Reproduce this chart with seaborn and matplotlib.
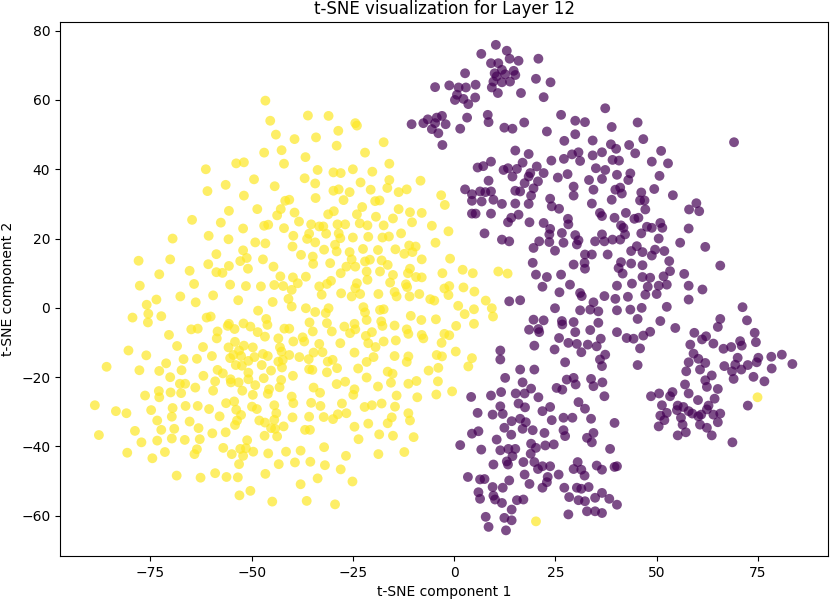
import numpy as np
import pandas as pd
import matplotlib
matplotlib.use("Agg")
import matplotlib.pyplot as plt
import seaborn as sns

# t-SNE coordinates, one list per class
class_names = ["class 0", "class 1"]
class_colors = ["#440154", "#fde725"]

yellow_points = [
    # upper left part
    (-46.6, 59.8), (-45.4, 54.0), (-44.0, 50.0), (-39.4, 48.7), (-46.9, 44.8), (-42.6, 45.5),
    (-42.0, 41.6), (-53.8, 41.7), (-51.9, 42.0), (-61.3, 40.0), (-49.4, 37.1), (-56.4, 35.5),
    (-60.9, 33.7), (-44.3, 35.1), (-51.9, 32.4), (-41.7, 30.9), (-40.7, 31.2), (-55.6, 28.0),
    (-48.6, 28.5), (-42.8, 28.5), (-43.7, 26.7), (-39.4, 27.5), (-64.7, 25.4), (-57.6, 24.6),
    (-52.1, 22.9), (-46.9, 23.7), (-45.9, 24.0), (-42.0, 23.0), (-69.5, 20.0), (-60.6, 20.8),
    (-55.7, 19.8), (-49.1, 18.9), (-46.6, 18.6), (-39.7, 20.8), (-39.9, 17.7), (-52.1, 16.6),
    (-51.2, 14.4), (-52.8, 13.5), (-58.7, 15.5), (-77.9, 13.6), (-70.1, 14.0), (-60.7, 12.6),
    (-55.6, 12.1), (-50.9, 11.3), (-47.2, 14.0), (-44.6, 11.9), (-72.8, 9.7), (-65.3, 10.7),
    (-58.7, 10.3), (-57.2, 10.1), (-42.9, 9.1), (-39.8, 8.8), (-77.6, 6.4), (-64.2, 6.9),
    (-55.3, 6.7), (-51.4, 6.3), (-47.7, 6.2), (-44.4, 6.6), (-42.2, 6.3), (-40.1, 5.2),
    (-73.5, 2.4), (-67.6, 3.3), (-59.5, 3.6), (-53.3, 2.2), (-44.8, 1.7), (-40.9, 2.6),
    (-63.8, 1.6), (-75.9, 0.9),
    # upper right part
    (-36.1, 55.5), (-31.0, 55.4), (-24.4, 53.3), (-24.0, 52.6), (-28.6, 51.1), (-34.1, 49.2),
    (-29.0, 46.8), (-17.4, 47.8), (-22.0, 44.8), (-36.7, 43.5), (-16.0, 41.6), (-33.7, 39.8),
    (-29.8, 39.1), (-28.0, 38.9), (-25.0, 40.0), (-20.2, 39.3), (-36.9, 37.4), (-34.3, 35.9),
    (-23.1, 36.2), (-16.0, 36.9), (-8.3, 36.7), (-16.5, 34.6), (-29.8, 33.8), (-28.5, 34.2),
    (-25.8, 33.4), (-20.6, 34.1), (-13.7, 33.4), (-11.7, 34.2), (-34.2, 31.7), (-27.3, 31.1),
    (-19.5, 30.8), (-18.4, 31.0), (-3.2, 32.5), (-2.3, 29.7), (-22.7, 29.1), (-29.7, 27.9),
    (-31.1, 27.0), (-24.0, 27.0), (-13.7, 28.5), (-10.9, 27.6), (-8.0, 27.4), (-38.3, 24.9),
    (-19.3, 26.3), (-15.1, 25.8), (-35.3, 24.1), (-33.3, 23.5), (-32.3, 23.5), (-28.8, 24.1),
    (-26.9, 24.1), (-23.3, 24.4), (-21.4, 23.8), (-17.4, 23.8), (-10.4, 24.7), (-5.5, 23.7),
    (-1.4, 22.1), (-35.8, 21.4), (-31.6, 21.4), (-28.5, 21.5), (-28.1, 20.1), (-25.0, 20.3),
    (-21.2, 20.5), (-17.7, 20.3), (-16.1, 20.6), (-13.1, 21.5), (-36.3, 19.9), (-34.3, 18.9),
    (-29.4, 18.2), (-29.0, 16.3), (-22.5, 17.0), (-18.8, 16.7), (-14.5, 16.9), (-11.1, 18.0),
    (-9.5, 17.7), (-10.3, 16.1), (-12.3, 15.6), (-4.6, 18.8), (-37.8, 15.3), (-34.9, 14.8),
    (-32.1, 16.8), (-25.8, 16.1), (-25.3, 14.0), (-30.6, 12.9), (-34.8, 12.7), (-22.0, 13.4),
    (-20.8, 13.9), (-17.9, 13.7), (-16.4, 12.4), (-8.0, 14.0), (-1.0, 14.2), (-26.6, 11.9),
    (-24.4, 11.9), (-21.6, 10.5), (-18.3, 10.5), (-28.0, 10.0), (-15.1, 9.5), (-11.4, 10.0),
    (-10.9, 11.3), (-9.4, 8.9), (-8.0, 8.8), (-2.9, 10.0), (2.1, 11.0), (4.6, 10.0),
    (10.9, 10.5), (-36.6, 9.0), (-38.6, 7.1), (-33.3, 6.2), (-31.4, 6.9), (-30.4, 7.8),
    (-24.0, 7.1), (-24.4, 5.7), (-21.4, 8.1), (-15.8, 7.3), (-11.9, 6.8), (-11.6, 6.0),
    (-2.4, 5.6), (-1.2, 6.3), (2.3, 5.9), (5.0, 4.7), (-18.7, 4.0), (-27.9, 4.2),
    (-32.7, 3.8), (-25.3, 3.3), (-23.2, 4.0), (-14.7, 4.6), (-14.2, 3.3), (-11.0, 3.3),
    (-8.6, 4.0), (-5.9, 2.5), (-4.9, 2.1), (-1.4, 3.7), (7.8, 2.1), (13.2, 9.9),
    # lower left part
    (-75.5, -1.7), (-75.6, -4.2), (-79.4, -2.8), (-72.3, -2.4), (-61.1, -2.8), (-60.1, -2.5),
    (-48.4, -0.8), (-46.4, -3.2), (-46.1, -4.9), (-40.1, 0.4), (-55.6, -4.6), (-55.9, -5.2),
    (-54.2, -6.1), (-52.0, -4.5), (-50.3, -5.4), (-64.9, -6.2), (-63.3, -6.0), (-58.4, -6.8),
    (-58.6, -8.8), (-48.5, -7.0), (-46.7, -8.3), (-41.9, -6.0), (-40.7, -6.0), (-70.4, -7.8),
    (-68.4, -11.0), (-62.0, -11.3), (-80.4, -12.3), (-76.0, -13.7), (-66.8, -14.8), (-63.5, -14.7),
    (-59.8, -13.9), (-55.7, -11.4), (-54.1, -9.8), (-51.9, -10.9), (-49.7, -11.4), (-53.1, -12.3),
    (-54.5, -13.6), (-55.3, -14.5), (-52.6, -13.9), (-50.8, -15.3), (-49.3, -14.2), (-47.2, -13.3),
    (-46.0, -13.9), (-43.4, -8.8), (-43.0, -11.4), (-42.6, -12.6), (-40.7, -13.6), (-39.7, -9.7),
    (-43.4, -15.5), (-42.3, -15.0), (-47.5, -16.5), (-85.8, -17.0), (-77.7, -18.0), (-72.8, -18.2),
    (-71.1, -16.0), (-67.3, -18.0), (-58.4, -17.9), (-57.1, -18.9), (-53.9, -16.5), (-52.4, -16.7),
    (-50.8, -18.7), (-61.9, -19.6), (-70.1, -20.0), (-67.7, -21.9), (-66.4, -21.9), (-59.0, -21.2),
    (-55.2, -20.6), (-55.1, -21.5), (-53.2, -21.5), (-50.8, -20.6), (-49.1, -22.3), (-47.0, -20.3),
    (-45.2, -18.1), (-42.5, -17.2), (-39.8, -19.6), (-42.7, -20.8), (-43.1, -22.9), (-63.9, -23.0),
    (-59.5, -23.9), (-52.3, -23.9), (-45.7, -23.5), (-46.0, -24.8), (-72.9, -24.0), (-72.8, -25.8),
    (-70.0, -24.4), (-67.4, -24.6), (-76.3, -25.3), (-49.7, -25.1), (-40.1, -25.6), (-88.7, -28.1),
    (-83.5, -29.8), (-80.9, -30.4), (-74.8, -29.5), (-69.5, -28.9), (-66.3, -28.3), (-63.3, -28.3),
    (-60.5, -29.2), (-56.3, -27.5), (-54.3, -27.0), (-53.8, -29.4), (-49.9, -28.5), (-48.7, -29.2),
    (-44.4, -28.1), (-43.9, -30.4), (-39.7, -27.5), (-69.7, -31.4), (-73.3, -32.5), (-65.3, -32.8),
    (-57.9, -31.3), (-52.6, -30.9), (-53.6, -32.5), (-54.1, -33.8), (-48.1, -32.5), (-46.7, -33.1),
    (-44.4, -32.3), (-39.9, -31.6), (-78.8, -35.5), (-72.3, -35.2), (-69.1, -34.9), (-63.1, -34.7),
    (-59.7, -36.2), (-56.4, -35.9), (-45.2, -34.7), (-44.2, -34.9), (-42.1, -34.2), (-46.8, -36.9),
    (-43.7, -37.1), (-87.7, -36.7), (-77.2, -38.8), (-73.3, -38.3), (-69.7, -37.7), (-66.5, -38.1),
    (-62.8, -37.9), (-51.1, -38.2), (-52.8, -40.7), (-51.4, -40.5), (-49.6, -41.5), (-57.0, -40.4),
    (-63.5, -40.8), (-64.1, -42.2), (-71.4, -41.6), (-80.7, -41.8), (-74.5, -43.4), (-54.9, -42.2),
    (-52.1, -42.7), (-45.9, -42.0), (-41.5, -41.5), (-53.1, -45.1), (-43.3, -45.1), (-39.3, -44.6),
    (-68.5, -48.4), (-62.6, -49.0), (-59.0, -47.7), (-56.2, -48.8), (-53.4, -48.9), (-46.6, -47.9),
    (-53.0, -54.1), (-50.3, -52.8), (-44.9, -55.9),
    # lower right part
    (-36.6, -0.1), (-34.3, -1.2), (-31.7, -1.5), (-31.0, -0.1), (-35.7, -4.2), (-31.4, -4.4),
    (-30.2, -6.8), (-34.9, -6.8), (-37.4, -8.5), (-37.0, -9.7), (-33.3, -10.4), (-28.1, -10.2),
    (-27.1, -5.4), (-25.7, -7.3), (-24.6, -4.6), (-24.4, -6.2), (-22.4, 0.2), (-22.0, -1.3),
    (-21.6, -3.5), (-18.3, -0.6), (-17.4, -0.4), (-18.0, -3.9), (-17.7, -5.2), (-14.7, -5.1),
    (-11.7, -6.2), (-11.3, -7.5), (-10.7, -2.3), (-8.1, -3.5), (-4.5, -3.3), (0.5, -5.2),
    (1.0, 0.6), (2.6, -1.8), (4.9, -0.4), (4.9, -4.6), (9.3, -0.1), (9.6, -2.5),
    (-21.8, -8.1), (-20.3, -7.0), (-21.2, -10.2), (-19.4, -11.3), (-17.4, -9.7), (-14.4, -9.4),
    (-8.0, -7.8), (-7.6, -8.8), (-2.4, -7.5), (-1.2, -7.9), (-3.1, -10.1), (-34.7, -12.9),
    (-32.5, -12.8), (-38.2, -14.2), (-35.9, -14.8), (-31.2, -15.5), (-30.0, -15.0), (-24.6, -12.9),
    (-21.6, -15.6), (-19.9, -14.2), (-14.7, -13.9), (-11.3, -14.0), (-11.7, -15.6), (-4.3, -13.6),
    (-3.0, -14.0), (0.4, -12.6), (4.4, -14.5), (3.5, -16.9), (-35.8, -17.7), (-35.0, -17.9),
    (-31.4, -18.6), (-28.9, -17.4), (-23.7, -17.5), (-16.4, -18.4), (-15.2, -19.0), (-21.6, -20.1),
    (-15.6, -21.6), (-11.3, -21.9), (-9.3, -21.1), (-6.3, -18.1), (-3.9, -17.3), (-4.0, -21.2),
    (-29.0, -22.0), (-26.9, -21.3), (-34.7, -23.0), (-33.1, -24.5), (-24.6, -23.5), (-24.9, -25.1),
    (-18.8, -22.7), (-14.2, -25.3), (-9.1, -25.8), (-4.4, -25.0), (-0.5, -24.1), (-35.3, -27.4),
    (-33.0, -28.3), (-27.7, -27.6), (-22.1, -28.6), (-20.3, -28.1), (-17.9, -27.6), (-14.6, -28.5),
    (-35.8, -31.4), (-32.2, -31.5), (-29.9, -32.1), (-28.7, -30.7), (-26.6, -30.4), (-15.4, -31.6),
    (-16.4, -33.3), (-11.3, -30.4), (-10.9, -32.5), (-21.2, -33.4), (-24.6, -34.3), (-36.8, -35.2),
    (-35.6, -35.2), (-23.6, -37.9), (-18.5, -36.5), (-15.1, -36.9), (-10.0, -37.3), (-37.9, -41.2),
    (-32.1, -40.2), (-26.7, -42.7), (-18.7, -42.2), (-12.3, -41.6), (-35.5, -44.4), (-31.9, -45.4),
    (-28.0, -46.6), (-33.7, -49.2), (-25.1, -50.1), (-37.9, -50.9), (-36.4, -55.7), (-29.4, -56.7),
    # strays inside the other cluster
    (20.2, -61.6), (74.9, -25.8),
]

purple_points = [
    # top left
    (10.3, 75.9), (6.7, 73.3), (13.0, 74.2), (13.7, 71.9), (15.9, 71.3), (20.8, 71.9),
    (9.1, 70.6), (10.9, 70.6), (11.8, 68.7), (10.0, 67.7), (10.5, 66.8), (9.7, 65.3),
    (12.6, 67.4), (14.7, 68.4), (15.1, 67.2), (13.8, 65.3), (11.8, 65.1), (2.7, 67.7),
    (20.2, 66.1), (23.8, 65.1), (-4.7, 63.7), (-1.2, 64.2), (1.1, 63.6), (2.9, 63.6),
    (5.3, 64.4), (9.3, 63.6), (10.8, 62.0), (16.5, 62.0), (22.1, 60.8), (0.7, 61.5),
    (0.2, 60.0), (2.3, 60.3), (3.5, 58.8), (5.2, 60.7), (37.3, 57.6), (26.4, 55.7),
    (29.9, 54.0), (32.3, 53.6), (8.3, 55.7), (8.5, 53.6), (3.2, 54.9), (-3.0, 55.4),
    (-4.3, 54.9), (-6.5, 54.4), (-7.6, 53.3), (-10.5, 53.0), (-4.7, 53.3), (-2.1, 53.0),
    (-5.5, 51.6), (-3.9, 50.4), (1.5, 51.7), (12.4, 52.0), (14.4, 51.7), (17.3, 53.5),
    (22.9, 50.9), (29.9, 50.1), (27.2, 48.2), (34.2, 48.3), (-2.9, 47.0), (15.1, 45.4),
    (18.4, 44.4), (30.7, 44.9), (29.1, 44.3), (34.2, 44.0), (36.5, 44.9), (24.0, 42.5),
    (27.1, 43.0), (31.1, 42.4), (9.1, 42.2), (5.8, 40.5), (7.2, 40.9), (16.9, 41.9),
    (12.2, 39.8), (13.3, 40.3), (15.5, 40.1), (20.4, 40.8), (18.8, 38.9), (18.4, 37.9),
    (22.1, 38.9), (14.4, 37.9), (8.5, 36.7), (25.6, 37.6), (28.0, 38.6), (35.0, 40.3),
    (37.3, 39.8), (33.3, 36.9), (36.5, 37.2), (17.4, 36.0), (20.7, 36.5), (19.6, 34.5),
    (29.5, 35.0), (29.5, 32.4), (34.4, 34.1), (2.7, 34.2), (4.4, 32.8), (6.4, 33.6),
    (7.7, 33.4), (9.1, 33.6), (15.1, 33.8), (16.3, 33.6), (19.0, 32.4), (23.7, 31.5),
    (4.4, 30.9), (6.8, 30.7), (9.7, 31.2),
    # top right
    (38.9, 52.2), (45.3, 53.5), (46.7, 48.7), (38.7, 47.2), (40.0, 45.9), (43.2, 47.0),
    (44.7, 44.6), (51.1, 45.3), (39.1, 42.7), (40.7, 42.5), (48.8, 42.2), (52.8, 41.7),
    (69.1, 47.8), (40.2, 38.4), (43.5, 38.8), (43.0, 36.9), (50.7, 38.1), (41.0, 34.7),
    (39.8, 34.1), (41.4, 33.0), (49.4, 34.3), (46.2, 33.3), (54.0, 32.5), (38.9, 31.2),
    (45.9, 31.0), (47.0, 31.0), (59.8, 30.2),
    # middle left
    (11.8, 30.0), (15.1, 30.1), (18.4, 30.0), (24.1, 29.3), (25.9, 28.6), (34.0, 30.1),
    (36.0, 27.4), (36.5, 26.5), (4.4, 27.2), (5.3, 27.2), (9.1, 27.2), (15.9, 26.9),
    (14.1, 26.0), (13.3, 24.7), (18.6, 24.7), (22.1, 24.5), (23.7, 22.8), (26.6, 21.6),
    (28.1, 25.7), (28.2, 24.1), (7.5, 21.5), (11.8, 19.7), (13.6, 19.2), (19.6, 17.3),
    (21.0, 19.2), (23.5, 21.2), (23.5, 19.0), (27.0, 18.8), (29.9, 21.0), (30.7, 19.5),
    (30.3, 18.3), (34.8, 19.2), (36.5, 21.2), (37.1, 19.2), (24.9, 16.5), (32.3, 15.4),
    (34.0, 15.4), (32.2, 13.0), (32.3, 11.3), (29.5, 12.5), (19.4, 13.0), (20.2, 9.6),
    (22.9, 8.9), (26.4, 9.6), (21.8, 6.1), (28.6, 6.7), (26.0, 4.5), (31.1, 4.3),
    (31.5, 3.4), (34.4, 1.6), (37.1, 3.4), (13.6, 1.9), (16.3, 2.2), (24.9, -0.1),
    (31.1, -0.7), (33.6, -0.5), (35.6, -1.0), (19.6, -3.4), (22.1, -3.6), (26.6, -3.8),
    (26.7, -4.8), (29.5, -4.1), (18.5, -6.3), (20.8, -6.1), (21.0, -7.0), (29.9, -7.0),
    (33.6, -6.4), (35.6, -4.3), (25.9, -8.7), (28.2, -10.1), (30.3, -10.4), (33.0, -10.6),
    (36.2, -8.9), (19.8, -10.9), (24.8, -12.0), (31.4, -12.8), (35.2, -11.1), (27.4, -15.7),
    (36.0, -14.9), (36.5, -16.8), (37.3, -13.5), (11.4, -12.3), (11.4, -14.9), (16.3, -17.8),
    (19.8, -17.8),
    # middle right
    (47.2, 28.4), (42.4, 27.4), (39.6, 26.0), (45.5, 26.0), (44.5, 25.7), (58.0, 28.4),
    (60.5, 27.9), (41.2, 23.8), (41.8, 23.1), (47.6, 23.4), (48.8, 23.1), (50.9, 24.5),
    (51.4, 23.1), (57.9, 22.9), (39.1, 19.7), (41.0, 19.7), (42.2, 21.2), (46.2, 21.5),
    (50.5, 20.0), (55.8, 18.8), (62.0, 17.6), (37.9, 15.4), (43.7, 16.4), (45.1, 17.8),
    (46.5, 16.1), (48.8, 15.1), (49.6, 16.8), (51.9, 16.4), (65.7, 12.2), (41.2, 13.2),
    (40.6, 11.5), (43.7, 12.8), (46.5, 12.3), (53.1, 13.5), (53.3, 10.6), (41.6, 9.9),
    (46.5, 8.9), (48.4, 8.7), (51.7, 9.1), (56.8, 9.8), (40.2, 6.4), (43.9, 7.0),
    (47.8, 6.1), (50.5, 6.4), (52.5, 6.7), (57.9, 6.4), (61.3, 5.3), (47.2, 3.8),
    (50.0, 4.0), (42.9, 3.2), (39.8, 2.6), (57.9, 2.4), (52.5, 0.3), (40.2, -0.7),
    (43.5, -0.5), (46.3, 0.0), (45.3, -3.2), (50.9, -3.8), (54.6, -5.8), (71.2, 0.2),
    (65.7, -3.2), (72.3, -3.6), (65.1, -5.5), (40.2, -7.0), (42.6, -8.7), (44.3, -8.9),
    (46.7, -8.0), (48.4, -6.9), (59.3, -7.2), (61.2, -9.1), (62.2, -8.2), (74.2, -7.2),
    (58.3, -10.6), (64.0, -10.3), (66.5, -11.8), (68.4, -11.3), (70.6, -9.6), (71.0, -10.9),
    (74.5, -9.9), (45.9, -11.7), (59.1, -13.2), (57.9, -15.7), (60.3, -14.7), (62.0, -15.9),
    (70.0, -14.4), (75.1, -14.4), (74.7, -15.7), (78.3, -14.1), (80.9, -13.5), (83.5, -16.2),
    (66.7, -16.8), (69.4, -16.4), (72.5, -16.5), (70.9, -17.8), (45.3, -16.5), (57.3, -18.3),
    (60.7, -17.8), (68.6, -18.3), (78.4, -17.5),
    # bottom left
    (12.6, -20.2), (16.9, -21.5), (19.0, -23.3), (4.2, -25.7), (9.1, -25.3), (11.6, -24.3),
    (15.2, -24.7), (17.4, -24.7), (20.8, -25.8), (25.3, -23.1), (26.7, -23.6), (27.8, -20.7),
    (29.5, -20.2), (30.0, -22.1), (33.8, -20.5), (34.4, -22.6), (36.6, -21.5), (37.1, -25.5),
    (5.8, -30.3), (9.5, -30.8), (11.4, -28.4), (12.0, -30.6), (15.9, -27.6), (17.5, -28.7),
    (21.8, -29.8), (23.7, -28.6), (30.7, -27.2), (32.3, -29.1), (33.8, -32.0), (27.0, -31.7),
    (29.2, -31.7), (24.1, -32.4), (14.2, -32.7), (16.3, -32.0), (17.7, -33.0), (16.9, -34.9),
    (12.4, -34.6), (14.1, -36.6), (19.4, -35.3), (22.3, -36.1), (27.0, -35.3), (27.4, -37.0),
    (32.8, -37.5), (34.4, -36.1), (34.0, -38.8), (4.4, -36.3), (6.0, -35.6), (10.5, -38.0),
    (1.5, -39.6), (6.7, -40.9), (11.4, -41.1), (13.4, -40.7), (15.1, -40.7), (14.4, -42.8),
    (19.0, -39.2), (20.2, -40.4), (22.5, -39.7), (24.6, -39.4), (18.9, -42.1), (13.0, -44.3),
    (13.3, -45.2), (17.1, -44.5), (19.8, -44.5), (20.7, -46.5), (21.8, -45.7), (23.7, -45.7),
    (9.7, -45.2), (30.5, -44.5), (29.5, -46.5), (31.4, -46.7), (35.2, -45.5), (36.5, -46.7),
    (32.2, -48.4), (3.4, -48.8), (6.4, -49.5), (7.5, -49.4), (13.6, -49.8), (17.4, -48.1),
    (23.1, -48.8), (22.9, -50.3), (25.8, -48.1), (18.6, -50.8), (9.5, -51.7), (12.0, -51.9),
    (21.8, -51.9), (27.2, -51.9), (30.3, -51.9), (31.4, -52.2), (33.2, -51.7), (6.0, -53.2),
    (6.4, -55.1), (9.7, -54.2), (10.1, -55.3), (11.8, -56.3), (15.5, -55.5), (17.1, -55.3),
    (28.4, -54.6), (30.7, -55.5), (32.3, -55.8), (34.8, -54.8), (36.5, -53.4), (32.8, -58.7),
    (34.8, -58.7), (36.5, -59.2), (14.2, -58.2), (28.2, -59.6), (7.8, -60.3), (12.4, -60.6),
    (14.2, -61.3), (8.5, -63.2), (12.8, -64.2),
    # bottom right
    (63.6, -19.5), (62.0, -20.9), (69.0, -20.5), (73.9, -19.9), (76.6, -21.2), (57.0, -22.1),
    (62.4, -22.8), (65.1, -23.4), (48.6, -25.5), (50.6, -24.7), (53.3, -25.5), (53.9, -24.3),
    (57.9, -24.7), (60.2, -26.6), (64.3, -26.2), (72.5, -28.2), (51.3, -28.1), (55.2, -28.2),
    (56.6, -28.6), (57.9, -29.8), (58.8, -30.5), (62.8, -28.2), (62.4, -29.3), (61.0, -30.8),
    (64.0, -30.8), (65.7, -30.5), (55.0, -29.5), (52.5, -30.3), (50.9, -31.1), (51.9, -32.4),
    (56.0, -31.7), (56.4, -33.7), (60.3, -31.3), (60.7, -33.7), (62.4, -34.6), (65.1, -33.0),
    (50.5, -34.2), (57.2, -35.9), (55.2, -36.8), (63.6, -36.8), (68.7, -38.8), (39.6, -33.2),
    (38.5, -40.7), (39.6, -45.9), (40.2, -45.7), (38.3, -55.1), (40.2, -56.8),
]

df = pd.DataFrame(
    [(x, y, class_names[0]) for x, y in purple_points]
    + [(x, y, class_names[1]) for x, y in yellow_points],
    columns=["x", "y", "label"],
)

fig = plt.figure(figsize=(8.3, 5.99), dpi=100)
ax = fig.add_axes([0.0723, 0.0718, 0.9253, 0.8915])

sns.scatterplot(
    data=df,
    x="x",
    y="y",
    hue="label",
    hue_order=class_names,
    palette=dict(zip(class_names, class_colors)),
    s=50,
    alpha=0.7,
    linewidth=0,
    legend=False,
    ax=ax,
)

ax.set_xlim(-97.3, 92.3)
ax.set_ylim(-71.6, 82.5)
ax.set_xticks([-75, -50, -25, 0, 25, 50, 75])
ax.set_yticks([-60, -40, -20, 0, 20, 40, 60, 80])
ax.set_title("t-SNE visualization for Layer 12", fontsize=12)
ax.set_xlabel("t-SNE component 1")
ax.set_ylabel("t-SNE component 2")

fig.savefig("out.png", dpi=100)
